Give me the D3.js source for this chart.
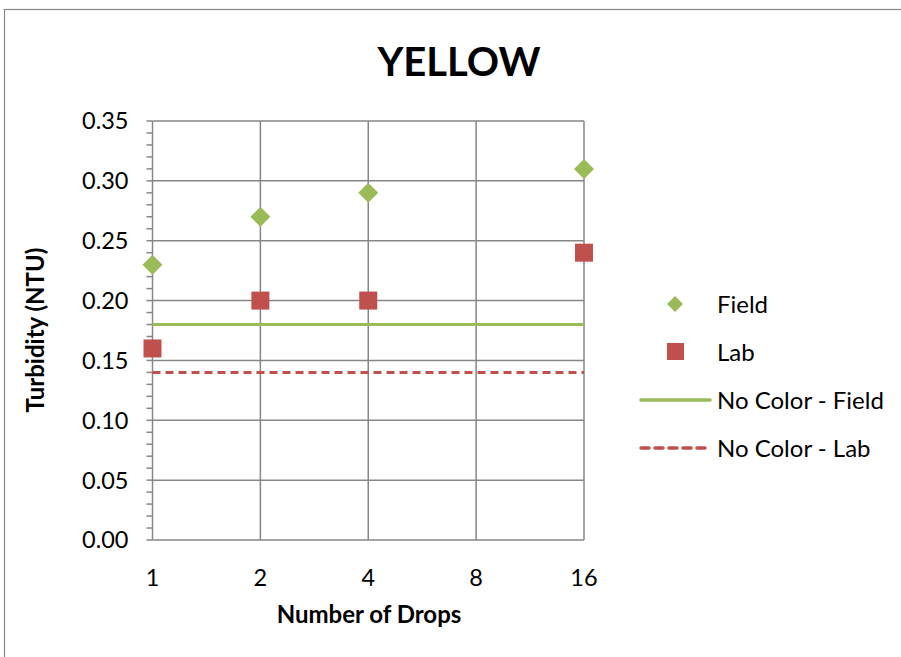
<!DOCTYPE html>
<html><head><meta charset="utf-8">
<script src="https://cdn.jsdelivr.net/npm/d3@7"></script>
<style>body{margin:0;background:#fff}svg{display:block}</style>
</head><body>
<svg id="c" width="901" height="657"></svg>
<script>
const drops = [1, 2, 4, 16];
const fieldValues = [0.23, 0.27, 0.29, 0.31];
const labValues = [0.16, 0.20, 0.20, 0.24];
const noColorField = 0.18;
const noColorLab = 0.14;
const xTicks = [1, 2, 4, 8, 16];
const yTicks = [0, 0.05, 0.10, 0.15, 0.20, 0.25, 0.30, 0.35];
const legendLabels = ["Field", "Lab", "No Color - Field", "No Color - Lab"];

const green = "#9BBB59", red = "#C0504D", grid = "#868686";
const font = "Lato, 'Open Sans', sans-serif";
const svg = d3.select("#c");

svg.append("rect").attr("x", 4.5).attr("y", 9.5).attr("width", 910).attr("height", 700)
  .attr("fill", "#fff").attr("stroke", "#868686").attr("stroke-width", 1.2);

const L = 152.5, R = 584, T = 121, B = 540;
const x = d3.scaleLog().base(2).domain([1, 16]).range([L, R]);
const y = d3.scaleLinear().domain([0, 0.35]).range([B, T]);

// gridlines
svg.append("g").selectAll("line").data(yTicks).join("line")
  .attr("x1", L).attr("x2", R).attr("y1", d => y(d)).attr("y2", d => y(d))
  .attr("stroke", grid).attr("stroke-width", 1.5);
svg.append("g").selectAll("line").data(xTicks).join("line")
  .attr("x1", d => x(d)).attr("x2", d => x(d)).attr("y1", T).attr("y2", B)
  .attr("stroke", grid).attr("stroke-width", 1.5);

// y axis with minor ticks
const minor = d3.range(0, 36).map(i => i / 100);
svg.append("g").selectAll("line").data(minor).join("line")
  .attr("x1", L - 6).attr("x2", L).attr("y1", d => y(d)).attr("y2", d => y(d))
  .attr("stroke", grid).attr("stroke-width", 1.5);
svg.append("g").selectAll("text").data(yTicks).join("text")
  .attr("x", L - 24).attr("y", d => y(d)).attr("dy", "0.36em")
  .attr("text-anchor", "end").attr("font-family", font).attr("font-size", 23.5)
  .text(d => d3.format(".2f")(d));

// x labels
svg.append("g").selectAll("text").data(xTicks).join("text")
  .attr("x", d => x(d)).attr("y", 586).attr("text-anchor", "middle")
  .attr("font-family", font).attr("font-size", 23.5).text(d => d);

// reference lines
svg.append("line").attr("x1", L).attr("x2", R).attr("y1", y(noColorField)).attr("y2", y(noColorField))
  .attr("stroke", green).attr("stroke-width", 3);
svg.append("line").attr("x1", L).attr("x2", R).attr("y1", y(noColorLab)).attr("y2", y(noColorLab))
  .attr("stroke", red).attr("stroke-width", 3).attr("stroke-dasharray", "8,5");

// markers
const field = drops.map((d, i) => ({x: d, y: fieldValues[i]}));
const lab = drops.map((d, i) => ({x: d, y: labValues[i]}));
svg.append("g").selectAll("path").data(field).join("path")
  .attr("d", d => { const cx = x(d.x), cy = y(d.y), r = 10; return `M${cx},${cy-r}L${cx+r},${cy}L${cx},${cy+r}L${cx-r},${cy}Z`; })
  .attr("fill", green);
svg.append("g").selectAll("rect").data(lab).join("rect")
  .attr("x", d => x(d.x) - 9).attr("y", d => y(d.y) - 9).attr("width", 18).attr("height", 18)
  .attr("fill", red);

// title
svg.append("text").attr("x", 459).attr("y", 76).attr("text-anchor", "middle")
  .attr("font-family", font).attr("font-weight", "bold").attr("font-size", 40).text("YELLOW");
svg.append("text").attr("x", 369).attr("y", 623).attr("text-anchor", "middle")
  .attr("font-family", font).attr("font-weight", "bold").attr("font-size", 24).text("Number of Drops");
svg.append("text").attr("transform", "translate(44,330) rotate(-90)").attr("text-anchor", "middle")
  .attr("font-family", font).attr("font-weight", "bold").attr("font-size", 24).text("Turbidity (NTU)");

// legend
const ly = [304, 352, 400, 448];
const lg = svg.append("g");
lg.append("path").attr("d", `M675,${ly[0]-8}L683,${ly[0]}L675,${ly[0]+8}L667,${ly[0]}Z`).attr("fill", green);
lg.append("rect").attr("x", 667).attr("y", ly[1] - 9).attr("width", 17).attr("height", 17).attr("fill", red);
lg.append("line").attr("x1", 641).attr("x2", 710).attr("y1", ly[2]).attr("y2", ly[2]).attr("stroke", green).attr("stroke-width", 3.5).attr("stroke-linecap", "round");
lg.append("line").attr("x1", 641).attr("x2", 710).attr("y1", ly[3]).attr("y2", ly[3]).attr("stroke", red).attr("stroke-width", 3.5).attr("stroke-dasharray", "8,6").attr("stroke-linecap", "round");
lg.selectAll("text").data(legendLabels).join("text")
  .attr("x", 717).attr("y", (d, i) => ly[i]).attr("dy", "0.36em")
  .attr("font-family", font).attr("font-size", 24).text(d => d);
</script>
</body></html>
